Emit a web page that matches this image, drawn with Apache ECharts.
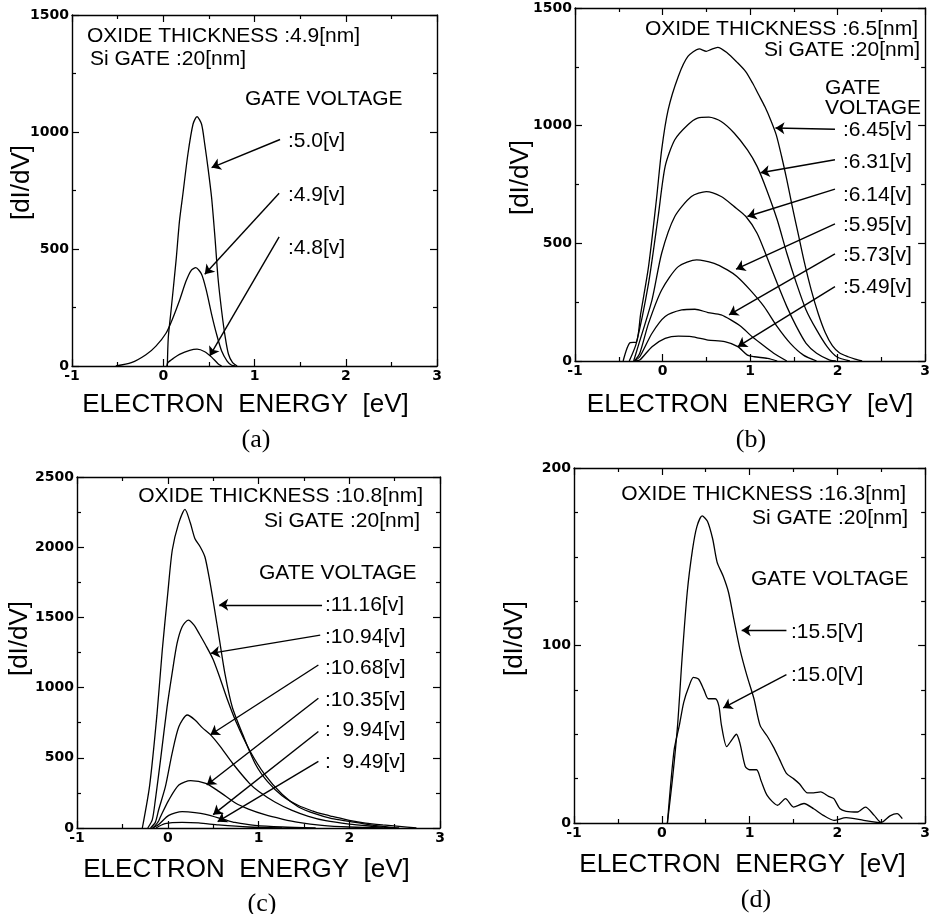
<!DOCTYPE html>
<html>
<head>
<meta charset="utf-8">
<script src="https://cdn.jsdelivr.net/npm/echarts@6/dist/echarts.min.js"></script>
<style>html,body{margin:0;padding:0;background:#fff}#c{width:933px;height:914px}</style>
</head>
<body>
<div id="c"></div>
<script>
// ---------- DATA ----------
const xTicks = [-1, 0, 1, 2, 3];
const yMaxes = [1500, 1500, 2500, 200];
const yIntervals = [500, 500, 500, 100];
const xName = 'ELECTRON  ENERGY  [eV]';
const yName = '[dI/dV]';
const panelTags = ['(a)', '(b)', '(c)', '(d)'];

// (a) oxide 4.9 nm
const a_notes = ['OXIDE THICKNESS :4.9[nm]', 'Si GATE :20[nm]', 'GATE VOLTAGE'];
const a_labels = [':5.0[v]', ':4.9[v]', ':4.8[v]'];
const a_v50 = [[0.045,0],[0.055,120],[0.085,235],[0.14,449],[0.178,620],[0.215,734],[0.27,905],[0.326,1033],[0.37,1066],[0.42,1033],[0.455,947],[0.49,848],[0.53,719],[0.567,548],[0.6,377],[0.64,235],[0.68,121],[0.715,50],[0.76,14],[0.81,0]];
const a_v49 = [[-0.52,0],[-0.35,14],[-0.19,48],[-0.08,85],[0.03,140],[0.1,200],[0.178,280],[0.25,363],[0.307,409],[0.356,420],[0.42,392],[0.474,320],[0.53,221],[0.585,135],[0.64,64],[0.7,21],[0.75,3],[0.79,0]];
const a_v48 = [[0.04,0],[0.05,14],[0.12,35],[0.178,50],[0.29,67],[0.37,72],[0.455,61],[0.53,38],[0.6,10],[0.64,0]];

// (b) oxide 6.5 nm
const b_notes = ['OXIDE THICKNESS :6.5[nm]', 'Si GATE :20[nm]', 'GATE', 'VOLTAGE'];
const b_labels = [':6.45[v]', ':6.31[v]', ':6.14[v]', ':5.95[v]', ':5.73[v]', ':5.49[v]'];
const b_v645 = [[-0.45,0],[-0.37,78],[-0.3,80],[-0.25,200],[-0.16,401],[-0.07,685],[-0.01,897],[0.064,1067],[0.18,1209],[0.29,1294],[0.42,1326],[0.5,1316],[0.55,1323],[0.63,1333],[0.74,1309],[0.85,1270],[0.95,1230],[1.03,1180],[1.1,1130],[1.17,1080],[1.24,1020],[1.3,960],[1.36,870],[1.42,770],[1.48,660],[1.55,540],[1.62,420],[1.7,300],[1.78,200],[1.86,120],[1.94,65],[2.02,35],[2.12,18],[2.2,8],[2.28,0]];
const b_v631 = [[-0.38,0],[-0.3,75],[-0.16,330],[-0.05,614],[0.03,827],[0.14,940],[0.29,1004],[0.4,1032],[0.53,1036],[0.67,1018],[0.82,968],[0.97,897],[1.08,827],[1.19,727],[1.31,600],[1.42,458],[1.53,330],[1.64,217],[1.76,132],[1.88,61],[1.99,18],[2.14,0]];
const b_v614 = [[-0.33,0],[-0.28,61],[-0.12,260],[-0.01,458],[0.14,614],[0.33,699],[0.5,720],[0.67,699],[0.82,656],[0.95,615],[1.08,543],[1.19,444],[1.31,330],[1.42,231],[1.53,146],[1.64,75],[1.76,33],[1.91,4],[1.98,0]];
const b_v595 = [[-0.32,0],[-0.26,33],[-0.16,160],[-0.01,302],[0.18,401],[0.39,430],[0.59,415],[0.74,387],[0.85,359],[1.0,302],[1.16,231],[1.31,146],[1.46,75],[1.61,25],[1.76,0]];
const b_v573 = [[-0.32,0],[-0.26,18],[-0.12,118],[0.03,189],[0.22,217],[0.37,220],[0.52,206],[0.67,196],[0.78,175],[0.9,146],[1.0,111],[1.12,75],[1.27,33],[1.42,0]];
const b_v549 = [[-0.32,0],[-0.26,4],[-0.12,61],[0.03,96],[0.18,106],[0.33,104],[0.52,89],[0.71,82],[0.86,61],[0.97,25],[1.05,18],[1.2,11],[1.31,0]];

// (c) oxide 10.8 nm
const c_notes = ['OXIDE THICKNESS :10.8[nm]', 'Si GATE :20[nm]', 'GATE VOLTAGE'];
const c_labels = [':11.16[v]', ':10.94[v]', ':10.68[v]', ':10.35[v]', ':  9.94[v]', ':  9.49[v]'];
const c_v1116 = [[-0.28,0],[-0.2,300],[-0.12,800],[-0.06,1270],[0,1670],[0.05,1980],[0.12,2170],[0.19,2270],[0.25,2170],[0.3,2060],[0.36,2000],[0.41,1930],[0.46,1770],[0.51,1580],[0.57,1340],[0.63,1100],[0.71,864],[0.83,660],[0.97,450],[1.1,330],[1.26,230],[1.44,160],[1.6,120],[1.7,100],[1.81,83],[2.0,55],[2.18,35],[2.37,22],[2.55,12],[2.74,0]];
const c_v1094 = [[-0.22,0],[-0.17,60],[-0.137,199],[-0.08,484],[-0.007,864],[0.048,1102],[0.103,1316],[0.159,1434],[0.226,1481],[0.29,1445],[0.35,1380],[0.42,1300],[0.5,1200],[0.58,1060],[0.66,910],[0.75,760],[0.9,556],[1.07,380],[1.26,240],[1.44,150],[1.63,100],[1.81,66],[2.0,47],[2.18,28],[2.37,12],[2.55,0]];
const c_v1068 = [[-0.19,0],[-0.137,40],[-0.1,130],[-0.026,294],[0.048,532],[0.122,721],[0.215,805],[0.3,770],[0.38,715],[0.47,665],[0.567,590],[0.714,461],[0.9,318],[1.0,262],[1.18,185],[1.37,125],[1.55,83],[1.74,52],[2.0,28],[2.26,12],[2.48,0]];
const c_v1035 = [[-0.16,0],[-0.1,50],[-0.08,80],[0.011,199],[0.122,306],[0.252,337],[0.419,318],[0.567,259],[0.75,176],[0.89,135],[1.07,95],[1.26,64],[1.44,40],[1.7,19],[2.0,7],[2.37,0]];
const c_v994 = [[-0.17,0],[-0.1,25],[0.011,90],[0.159,116],[0.3,110],[0.419,97],[0.64,57],[0.74,40],[0.96,19],[1.26,7],[1.63,0]];
const c_v949 = [[-0.13,0],[-0.03,31],[0.159,40],[0.34,36],[0.56,22],[0.89,7],[1.26,0]];

// (d) oxide 16.3 nm
const d_notes = ['OXIDE THICKNESS :16.3[nm]', 'Si GATE :20[nm]', 'GATE VOLTAGE'];
const d_labels = [':15.5[V]', ':15.0[V]'];
const d_v155 = [[0.064,0],[0.12,24],[0.18,55],[0.23,92],[0.29,130],[0.35,154],[0.4,167],[0.46,173],[0.52,170],[0.58,160],[0.63,147],[0.7,139],[0.76,130],[0.82,115],[0.89,98],[0.97,83],[1.05,70],[1.12,55],[1.2,49],[1.27,43],[1.34,36],[1.42,28],[1.5,25],[1.57,22],[1.66,17],[1.73,17],[1.81,17.5],[1.9,15],[1.96,13.7],[2.03,8],[2.1,6.6],[2.23,6.2],[2.32,9],[2.42,4.3],[2.5,0.3],[2.6,4],[2.68,5.3],[2.74,2.5]];
const d_v150 = [[0.064,0],[0.14,41],[0.2,55],[0.25,68],[0.31,77],[0.36,82],[0.42,81],[0.48,75],[0.53,70],[0.61,70],[0.65,66],[0.68,55],[0.74,43],[0.8,47],[0.85,50],[0.89,45],[0.95,32],[1.0,30],[1.08,30],[1.13,24],[1.2,15.6],[1.32,10],[1.41,13.7],[1.5,9],[1.62,11],[1.73,8],[1.84,4.3],[1.96,1.5],[2.1,3],[2.3,1.5],[2.5,0]];

// arrows: [from (label end), to (curve)] in data coords
const a_arrows = [[[1.28,968],[0.53,848]], [[1.27,738],[0.455,392]], [[1.27,552],[0.51,43]]];
const b_arrows = [[[1.97,985],[1.29,990]], [[1.97,855],[1.12,800]], [[1.97,730],[0.97,614]], [[1.97,583],[0.84,390]], [[1.97,455],[0.76,196]], [[1.97,316],[0.86,61]]];
const c_arrows = [[[1.7,1590],[0.567,1590]], [[1.68,1374],[0.474,1244]], [[1.66,1161],[0.47,664]], [[1.66,924],[0.43,306]], [[1.66,687],[0.5,95]], [[1.66,474],[0.55,45]]];
const d_arrows = [[[1.42,108.6],[0.91,108.6]], [[1.42,83.6],[0.70,64.8]]];

// ---------- LAYOUT ----------
const grids = [
  {left: 72, top: 15, width: 365, height: 351},
  {left: 575, top: 8, width: 352, height: 353},
  {left: 77, top: 477, width: 363, height: 351},
  {left: 574, top: 468, width: 356, height: 355}
];
const xNameGap = [26, 31, 29, 29];
const xNameShift = [9, 0, 12, 7];
const yNameGap = [37, 41, 44, 46];
const yNameShift = [8, 7, 14, 7];
const yMinorSplit = [2, 2, 2, 4];

const panelSeries = [
  {curves: [a_v50, a_v49, a_v48], labels: a_labels, arrows: a_arrows},
  {curves: [b_v645, b_v631, b_v614, b_v595, b_v573, b_v549], labels: b_labels, arrows: b_arrows},
  {curves: [c_v1116, c_v1094, c_v1068, c_v1035, c_v994, c_v949], labels: c_labels, arrows: c_arrows},
  {curves: [d_v155, d_v150], labels: d_labels, arrows: d_arrows}
];

const black = '#000';
const tickFont = {color: black, fontFamily: 'DejaVu Sans', fontWeight: 'bold', fontSize: 14, formatter: v => String(v)};
const xAxes = [], yAxes = [], series = [];
grids.forEach((g, i) => {
  const common = {
    gridIndex: i, type: 'value',
    axisLine: {show: true, onZero: false, lineStyle: {color: black, width: 1.4}},
    axisTick: {show: true, inside: true, length: 7, lineStyle: {color: black, width: 1.2}},
    splitLine: {show: false}
  };
  xAxes.push(Object.assign({}, common, {
    min: xTicks[0], max: xTicks[xTicks.length - 1], interval: 1, position: 'bottom',
    minorTick: {show: true, splitNumber: 2, length: 4, lineStyle: {color: black, width: 1.2}},
    axisLabel: Object.assign({margin: 3}, tickFont),
    name: xName, nameLocation: 'middle', nameGap: xNameGap[i], nameMoveOverlap: false,
    nameTextStyle: {color: black, fontFamily: 'Liberation Sans', fontSize: 26, padding: [0, 2 * xNameShift[i], 0, 0]}
  }));
  xAxes.push(Object.assign({}, common, {
    min: xTicks[0], max: xTicks[xTicks.length - 1], interval: 1, position: 'top',
    minorTick: {show: true, splitNumber: 2, length: 4, lineStyle: {color: black, width: 1.2}},
    axisLabel: {show: false}
  }));
  yAxes.push(Object.assign({}, common, {
    min: 0, max: yMaxes[i], interval: yIntervals[i], position: 'left',
    minorTick: {show: true, splitNumber: yMinorSplit[i], length: 4, lineStyle: {color: black, width: 1.2}},
    axisLabel: Object.assign({margin: 3}, tickFont),
    name: yName, nameLocation: 'middle', nameGap: yNameGap[i], nameMoveOverlap: false,
    nameTextStyle: {color: black, fontFamily: 'Liberation Sans', fontSize: 26, padding: [0, 0, 0, 2 * yNameShift[i]]}
  }));
  yAxes.push(Object.assign({}, common, {
    min: 0, max: yMaxes[i], interval: yIntervals[i], position: 'right',
    minorTick: {show: true, splitNumber: yMinorSplit[i], length: 4, lineStyle: {color: black, width: 1.2}},
    axisLabel: {show: false}
  }));
  const p = panelSeries[i];
  p.curves.forEach((data, k) => {
    const arr = p.arrows[k];
    series.push({
      type: 'line', name: p.labels[k], xAxisIndex: 2 * i, yAxisIndex: 2 * i,
      data: data, showSymbol: false, smooth: 0.25, animation: false, silent: true,
      lineStyle: {color: black, width: 1.3},
      markLine: {
        silent: true, animation: false, symbol: ['none', 'arrow'], symbolSize: 9,
        label: {show: false},
        lineStyle: {color: black, width: 1.4, type: 'solid'},
        emphasis: {disabled: true},
        data: [[{coord: arr[0]}, {coord: arr[1]}]]
      }
    });
  });
});

// ---------- TEXT ----------
const noteFont = '21px "Liberation Sans", Arial, sans-serif';
function txt(text, x, y, align, font) {
  return {type: 'text', silent: true, style: {text: text, x: x, y: y, fill: black, font: font || noteFont, align: align || 'left', verticalAlign: 'middle'}};
}
const graphics = [
  txt(a_notes[0], 87, 36), txt(a_notes[1], 90, 59), txt(a_notes[2], 245, 99),
  txt(a_labels[0], 288, 141), txt(a_labels[1], 288, 195), txt(a_labels[2], 288, 248),

  txt(b_notes[0], 918, 29, 'right'), txt(b_notes[1], 920, 50, 'right'), txt(b_notes[2], 825, 88), txt(b_notes[3], 825, 108),
  txt(b_labels[0], 843, 130), txt(b_labels[1], 843, 162), txt(b_labels[2], 843, 195),
  txt(b_labels[3], 843, 225), txt(b_labels[4], 843, 255), txt(b_labels[5], 843, 287),

  txt(c_notes[0], 423, 496, 'right'), txt(c_notes[1], 420, 521, 'right'), txt(c_notes[2], 259, 573),
  txt(c_labels[0], 325, 605), txt(c_labels[1], 325, 637), txt(c_labels[2], 325, 668),
  txt(c_labels[3], 325, 700), txt(c_labels[4], 325, 730), txt(c_labels[5], 325, 762),

  txt(d_notes[0], 906, 494, 'right'), txt(d_notes[1], 908, 518, 'right'), txt(d_notes[2], 751, 579),
  txt(d_labels[0], 791, 632), txt(d_labels[1], 791, 675),

  txt(panelTags[0], 256, 440, 'center', '26px "Liberation Serif", serif'),
  txt(panelTags[1], 751, 440, 'center', '26px "Liberation Serif", serif'),
  txt(panelTags[2], 262, 904, 'center', '26px "Liberation Serif", serif'),
  txt(panelTags[3], 756, 900, 'center', '26px "Liberation Serif", serif')
];

const chart = echarts.init(document.getElementById('c'), null, {renderer: 'canvas'});
chart.setOption({
  backgroundColor: '#fff',
  animation: false,
  grid: grids.map(g => Object.assign({containLabel: false}, g)),
  xAxis: xAxes,
  yAxis: yAxes,
  series: series,
  graphic: graphics
});
</script>
</body>
</html>
